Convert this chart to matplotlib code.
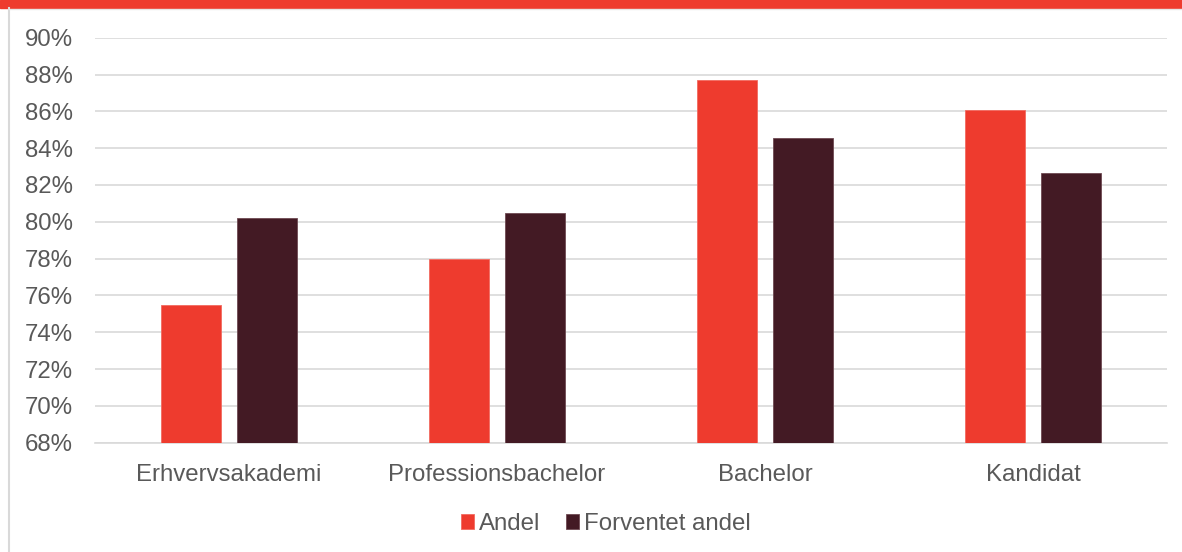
import numpy as np
import matplotlib.pyplot as plt
from matplotlib.patches import Rectangle
from matplotlib.lines import Line2D

kategorier = ["Erhvervsakademi", "Professionsbachelor", "Bachelor", "Kandidat"]
andel = [75.5, 78.0, 87.7, 86.05]
forventet_andel = [80.2, 80.5, 84.55, 82.65]
y_ticks = list(range(68, 91, 2))

ROED = "#EE3B2E"
MOERK = "#431A24"
GRAA_TEKST = "#595959"
GRID = "#D9D9D9"

plt.rcParams['font.family'] = ['Liberation Sans', 'DejaVu Sans']

fig = plt.figure(figsize=(11.82, 5.52), dpi=100)
ax = fig.add_axes([95 / 1182, 1 - 442.7 / 552, (1167 - 95) / 1182, (442.7 - 37.7) / 552])

# ramme: roed bjaelke i toppen og graa kant til venstre
fig.patches.append(Rectangle((0, 1 - 8 / 552), 1, 8 / 552, transform=fig.transFigure,
                             color=ROED, zorder=0))
fig.lines.append(Line2D([8.5 / 1182, 8.5 / 1182], [0, 1 - 8 / 552], transform=fig.transFigure,
                        color=GRID, linewidth=1.5))
fig.lines.append(Line2D([8.5 / 1182, 1], [1 - 9 / 552, 1 - 9 / 552], transform=fig.transFigure,
                        color="#E6E6E6", linewidth=1.0))

x = np.arange(len(kategorier))
bredde = 0.224
ax.bar(x - 0.143, [v - 68 for v in andel], bredde, bottom=68, color=ROED,
       edgecolor="#F26A60", linewidth=0.6, label="Andel", zorder=3)
ax.bar(x + 0.141, [v - 68 for v in forventet_andel], bredde, bottom=68, color=MOERK,
       edgecolor="#6E4A52", linewidth=0.6, label="Forventet andel", zorder=3)

ax.set_xlim(-0.5, len(kategorier) - 0.5)
ax.set_ylim(68, 90)
ax.set_yticks(y_ticks)
ax.set_yticklabels([f"{t}%" for t in y_ticks])
ax.set_xticks(x)
ax.set_xticklabels(kategorier)

ax.grid(axis='y', color=GRID, linewidth=1.2, zorder=0)
ax.set_axisbelow(True)
for side in ['top', 'right', 'left']:
    ax.spines[side].set_visible(False)
ax.spines['bottom'].set_color(GRID)
ax.spines['bottom'].set_linewidth(1.2)

ax.tick_params(axis='both', length=0, labelsize=17.3, labelcolor=GRAA_TEKST)
ax.tick_params(axis='y', pad=16)
ax.tick_params(axis='x', pad=15)

ax.legend(loc='center', bbox_to_anchor=(606 / 1182, (552 - 524) / 552), bbox_transform=fig.transFigure,
          ncol=2, frameon=False, fontsize=17.3, labelcolor=GRAA_TEKST,
          handlelength=0.54, handleheight=0.54, handletextpad=0.2, columnspacing=1.08)

fig.savefig("out.png", dpi=100, facecolor="white")
